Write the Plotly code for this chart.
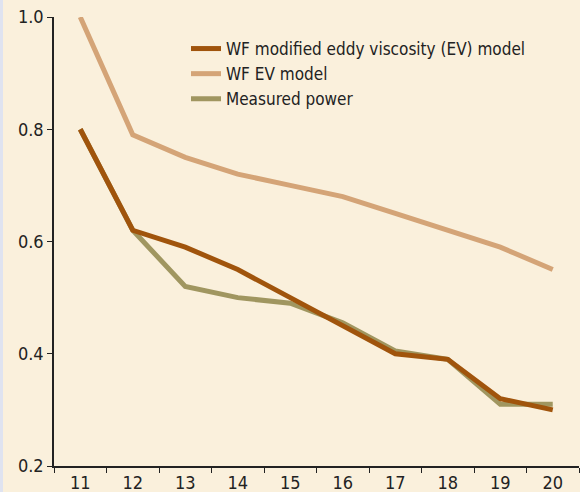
import plotly.graph_objects as go

categories = ["11", "12", "13", "14", "15", "16", "17", "18", "19", "20"]
modified_ev = [0.80, 0.62, 0.59, 0.55, 0.50, 0.45, 0.40, 0.39, 0.32, 0.30]
ev_model = [1.00, 0.79, 0.75, 0.72, 0.70, 0.68, 0.65, 0.62, 0.59, 0.55]
measured = [0.80, 0.62, 0.52, 0.50, 0.49, 0.455, 0.405, 0.39, 0.31, 0.31]
y_ticks = [0.2, 0.4, 0.6, 0.8, 1.0]
y_tick_labels = ["0.2", "0.4", "0.6", "0.8", "1.0"]

BG = "#faf0dc"
FONT = "DejaVu Sans Condensed, sans-serif"

fig = go.Figure()
fig.add_trace(go.Scatter(x=categories, y=ev_model, mode="lines", name="WF EV model",
                         line=dict(color="#d4a477", width=5), cliponaxis=False, legendrank=2))
fig.add_trace(go.Scatter(x=categories, y=measured, mode="lines", name="Measured power",
                         line=dict(color="#a09660", width=5), cliponaxis=False, legendrank=3))
fig.add_trace(go.Scatter(x=categories, y=modified_ev, mode="lines",
                         name="WF modified eddy viscosity (EV) model",
                         line=dict(color="#a0540c", width=5), cliponaxis=False, legendrank=1))

L, R, T, B = 54, 1, 17, 26
W, H = 580, 492
pw = W - L - R
ph = H - T - B

fig.update_layout(
    width=W, height=H,
    margin=dict(l=L, r=R, t=T, b=B, autoexpand=False),
    paper_bgcolor="rgba(0,0,0,0)", plot_bgcolor=BG,
    font=dict(family=FONT, size=18, color="#222222"),
    showlegend=True,
    legend=dict(x=(186 - L) / pw, y=1 - (31 - T) / ph,
                xanchor="left", yanchor="top", bgcolor="rgba(0,0,0,0)",
                font=dict(family=FONT, size=17, color="#222222")),
    xaxis=dict(type="category", range=[-0.5, 9.5], tickson="boundaries",
               ticks="outside", ticklen=5, tickwidth=1.2, tickcolor="#222222",
               showline=True, linecolor="#222222", linewidth=1.5,
               showgrid=False, zeroline=False),
    yaxis=dict(range=[0.2, 1.0], tickmode="array", tickvals=y_ticks, ticktext=y_tick_labels,
               ticks="outside", ticklen=5, tickwidth=1.2, tickcolor="#222222",
               showline=True, linecolor="#222222", linewidth=1.5,
               showgrid=False, zeroline=False),
)

fig.write_html(
    "out.html",
    config={"displayModeBar": False},
    post_script="document.body.style.margin='0';"
                "document.body.style.background='linear-gradient(to right, #dfe3f0 3px, #faf0dc 3px)';"
                "document.body.style.overflow='hidden';",
)
